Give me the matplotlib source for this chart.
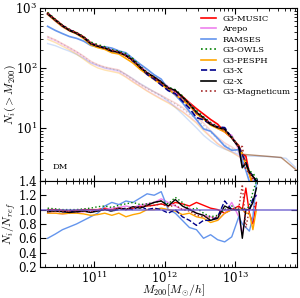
import numpy as np
import matplotlib
matplotlib.use('Agg')
import matplotlib.pyplot as plt

plt.rcParams['font.family'] = 'DejaVu Serif'
plt.rcParams['mathtext.fontset'] = 'cm'

# log10 M200 grid for the main curves
logm = [10.34, 10.45, 10.55, 10.65, 10.75, 10.85, 10.95, 11.05, 11.15, 11.25, 11.35,
        11.45, 11.55, 11.65, 11.75, 11.85, 11.95, 12.05, 12.15, 12.25, 12.35, 12.45,
        12.55, 12.65, 12.75, 12.85, 12.95, 13.05, 13.10, 13.15, 13.20, 13.25, 13.30]
# reference cumulative counts N_ref(>M)
n_ref = [825, 640, 520, 440, 390, 330, 265, 235, 215, 195, 180,
         160, 130, 100, 78, 64, 52, 44, 37, 31, 25, 19,
         16, 13.5, 11.5, 9, 6.8, 4.8, 3.6, 2.6, 1.8, 1.4, 1.0]

# ratios N_i/N_ref
names = ['G3-MUSIC', 'Arepo', 'RAMSES', 'G3-OWLS', 'G3-PESPH', 'G3-X', 'G2-X', 'G3-Magneticum']
ratios = {
    'G3-MUSIC': [1.0, 1.0, 0.99, 0.98, 0.99, 1.0, 1.0, 1.0, 1.02, 1.0, 1.03,
                 1.0, 1.02, 1.04, 1.05, 1.06, 1.08, 1.05, 1.1, 1.08, 1.05, 1.1,
                 1.06, 1.02, 1.0, 0.95, 1.0, 1.05, 1.0, 1.3, 0.95, 0.8, 1.1],
    'Arepo': [0.95, 0.95, 0.94, 0.95, 0.96, 0.97, 0.98, 0.99, 1.0, 1.02, 1.03,
              1.05, 1.03, 1.06, 1.08, 1.1, 1.15, 1.1, 1.05, 1.0, 1.02, 0.95,
              0.92, 0.9, 0.85, 0.95, 1.1, 0.9, 0.65, 1.0, 1.0, 1.1, 1.2],
    'RAMSES': [0.6, 0.66, 0.72, 0.76, 0.8, 0.85, 0.9, 0.95, 1.05, 1.1, 1.07,
               1.12, 1.1, 1.16, 1.22, 1.2, 1.25, 1.0, 0.95, 0.85, 0.75, 0.72,
               0.6, 0.65, 0.58, 0.55, 0.62, 0.9, 0.8, 0.75, 0.7, 0.9, 1.4],
    'G3-OWLS': [1.02, 1.01, 1.0, 1.0, 1.0, 1.01, 1.02, 1.04, 1.05, 1.03, 1.06,
                1.08, 1.1, 1.07, 1.08, 1.1, 1.12, 1.08, 1.17, 1.1, 1.0, 1.02,
                0.95, 0.9, 0.92, 1.0, 1.05, 1.0, 1.02, 1.0, 1.05, 1.25, 1.4],
    'G3-PESPH': [0.95, 0.95, 0.94, 0.95, 0.95, 0.94, 0.92, 0.93, 0.95, 0.92, 0.95,
                 0.9, 0.93, 0.95, 1.0, 1.0, 1.02, 1.0, 0.98, 0.93, 0.95, 0.9,
                 0.88, 0.82, 0.85, 0.95, 1.0, 1.0, 1.0, 0.95, 0.95, 0.72, 1.0],
    'G3-X': [0.98, 0.98, 0.97, 0.98, 0.97, 0.98, 0.97, 0.98, 1.0, 0.98, 1.0,
             1.02, 1.0, 1.05, 1.0, 1.02, 1.0, 0.95, 1.0, 0.9, 0.85, 0.78,
             0.85, 0.85, 0.9, 1.12, 1.0, 1.0, 1.0, 1.0, 1.0, 1.15, 1.2],
    'G2-X': [0.97, 0.98, 0.97, 0.96, 0.97, 0.98, 0.96, 0.98, 1.0, 0.98, 1.02,
             1.0, 1.04, 1.02, 1.06, 1.1, 1.12, 1.05, 1.14, 1.05, 1.0, 0.95,
             0.92, 0.85, 0.88, 1.05, 1.0, 1.0, 0.6, 1.0, 1.0, 1.1, 1.3],
    'G3-Magneticum': [0.98, 0.98, 0.97, 0.98, 0.99, 0.98, 0.97, 0.99, 1.0, 1.0, 1.02,
                      1.0, 1.03, 1.04, 1.05, 1.06, 1.08, 1.04, 1.06, 1.0, 0.98, 0.92,
                      0.9, 0.88, 0.9, 1.0, 1.0, 1.02, 1.35, 0.75, 1.0, 1.0, 1.1],
}
colors = {'G3-MUSIC': 'red', 'Arepo': 'violet', 'RAMSES': 'cornflowerblue',
          'G3-OWLS': 'green', 'G3-PESPH': 'orange', 'G3-X': 'darkblue',
          'G2-X': 'black', 'G3-Magneticum': 'brown'}
styles = {'G3-MUSIC': '-', 'Arepo': '-', 'RAMSES': '-', 'G3-OWLS': ':',
          'G3-PESPH': '-', 'G3-X': '--', 'G2-X': '-', 'G3-Magneticum': ':'}

# faint curves in the upper panel
faint_logm = [10.34, 10.45, 10.55, 10.65, 10.75, 10.85, 10.95, 11.05, 11.15, 11.25, 11.35,
              11.45, 11.55, 11.65, 11.75, 11.85, 11.95, 12.05, 12.15, 12.25, 12.35, 12.45,
              12.55, 12.65, 12.75, 12.85, 12.95, 13.05, 13.12]
faint_gray = [330, 290, 250, 215, 185, 155, 127, 112, 102, 96, 90, 76, 63, 53, 45, 39, 34,
              29, 25, 21, 17, 14, 11, 8.5, 6.5, 5.2, 4.5, 3.8, 3.5]
faint_pink = [320, 282, 245, 210, 180, 150, 122, 108, 98, 92, 86, 72, 60, 50, 42, 36, 31,
              27, 23, 19, 15.5, 12.5, 9.5, 7.2, 5.5, 4.6, 4.0, 3.4, 3.2]
faint_blue = [255, 235, 210, 190, 168, 145, 122, 110, 100, 95, 90, 78, 66, 55, 47, 40, 34,
              28, 22, 17, 13, 10, 7.5, 6, 5, 4.4, 4.0, 3.6, 3.4]
faint_orange = [300, 265, 230, 200, 170, 140, 115, 100, 92, 87, 82, 70, 58, 49, 41, 35, 30,
                26, 22, 18.5, 15, 12, 9, 7, 5.4, 4.5, 3.9, 3.3, 3.1]
faint_brown = [335, 295, 255, 220, 188, 158, 130, 114, 104, 98, 93, 78, 65, 54, 46, 40, 35,
               30, 26, 22, 18, 15, 12, 9, 7, 5.6, 4.8, 4.0, 3.6]
brown_tail_logm = [13.12, 13.65, 13.86]
brown_tail = [3.6, 3.2, 2.0]
blue_tail_logm = [13.12, 13.5, 13.72, 13.85]
blue_tail = [3.4, 3.3, 3.1, 2.2]

m = 10 ** np.array(logm)
ref = np.array(n_ref)
fm = 10 ** np.array(faint_logm)

fig = plt.figure(figsize=(3.0, 2.98), dpi=100)
ax1 = fig.add_axes([0.133, 0.393, 0.857, 0.580])
ax2 = fig.add_axes([0.133, 0.104, 0.857, 0.289], sharex=ax1)

ax1.plot(fm, faint_gray, ':', color='gray', lw=1.0, alpha=0.4)
ax1.plot(fm, faint_pink, '-', color='violet', lw=1.0, alpha=0.3)
ax1.plot(fm, faint_blue, '-', color='cornflowerblue', lw=1.0, alpha=0.3)
ax1.plot(fm, faint_orange, '-', color='orange', lw=1.0, alpha=0.3)
ax1.plot(fm, faint_brown, '-', color='lightcoral', lw=1.0, alpha=0.35)
ax1.plot(10 ** np.array(blue_tail_logm), blue_tail, '-', color='cornflowerblue', lw=1.0, alpha=0.35)
ax1.plot(10 ** np.array(brown_tail_logm), brown_tail, '-', color='saddlebrown', lw=1.0, alpha=0.6)

for name in names:
    r = np.array(ratios[name])
    ax1.plot(m, ref * r, styles[name], color=colors[name], lw=1.2, label=name)
    ax2.plot(m, r, styles[name], color=colors[name], lw=1.0)
ax2.axhline(1.0, color='slateblue', lw=1.2, alpha=0.8)

ax1.set_xscale('log')
ax1.set_yscale('log')
ax1.set_xlim(1.7e10, 7.5e13)
ax1.set_ylim(1.3, 1000)
ax2.set_ylim(0.2, 1.4)
ax2.set_yticks([0.2, 0.4, 0.6, 0.8, 1.0, 1.2, 1.4])

for ax in (ax1, ax2):
    ax.tick_params(which='both', direction='in', top=True, right=True, labelsize=8.5, pad=2)
    ax.tick_params(which='major', length=4)
    ax.tick_params(which='minor', length=2)
ax1.tick_params(labelbottom=False)

ax1.set_ylabel(r'$N_i(>M_{200})$', fontsize=8.5)
ax2.set_ylabel(r'$N_i/N_{ref}$', fontsize=8.5)
ax2.set_xlabel(r'$M_{200}[M_{\odot}/h]$', fontsize=8.5)
ax1.yaxis.set_label_coords(-0.085, 0.5)
ax2.yaxis.set_label_coords(-0.085, 0.5)
ax2.xaxis.set_label_coords(0.52, -0.175)
ax1.text(0.05, 0.07, 'DM', transform=ax1.transAxes, fontsize=6)

ax1.legend(loc='upper right', frameon=False, fontsize=6, handlelength=1.8,
           labelspacing=0.3, borderaxespad=0.4)

fig.savefig('out.png', dpi=100)
